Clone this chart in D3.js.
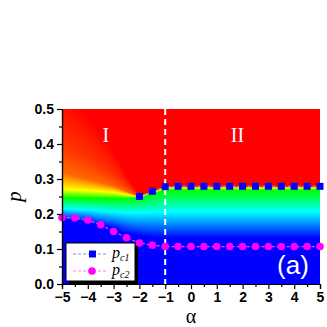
<!DOCTYPE html>
<html>
<head>
<meta charset="utf-8">
<script src="https://cdn.jsdelivr.net/npm/d3@7"></script>
<style>
  html, body { margin: 0; padding: 0; background: #fff; }
  svg { display: block; }
</style>
</head>
<body>
<script>
// critical points
const alphaC1 = [-2, -1.5, -1, -0.5, 0, 0.5, 1, 1.5, 2, 2.5, 3, 3.5, 4, 4.5, 5];
const pc1 = [0.25, 0.265, 0.278, 0.279, 0.279, 0.279, 0.279, 0.279, 0.279, 0.279, 0.279, 0.279, 0.279, 0.279, 0.279];
const alphaC2 = [-5, -4.5, -4, -3.5, -3, -2.5, -2, -1.5, -1, -0.5, 0, 0.5, 1, 1.5, 2, 2.5, 3, 3.5, 4, 4.5, 5];
const pc2 = [0.19, 0.189, 0.183, 0.169, 0.15, 0.132, 0.117, 0.111, 0.107, 0.107, 0.107, 0.107, 0.107, 0.107, 0.107, 0.107, 0.107, 0.107, 0.107, 0.107, 0.107];

// colour map background: p where each colour level is reached, per alpha column
const mapAlpha = [-5, -4, -3, -2.5, -2, -1.5, -1, 5];
const mapLevels = [0, 0.25, 0.5, 0.75, 0.9, 0.95, 1];
const mapLevelP = [
  [0.185, 0.215, 0.247, 0.27, 0.32, 0.40, 0.56],
  [0.175, 0.212, 0.245, 0.267, 0.30, 0.36, 0.48],
  [0.158, 0.206, 0.244, 0.262, 0.28, 0.31, 0.38],
  [0.145, 0.204, 0.244, 0.256, 0.264, 0.28, 0.31],
  [0.137, 0.204, 0.246, 0.249, 0.25, 0.251, 0.252],
  [0.133, 0.205, 0.258, 0.262, 0.263, 0.264, 0.265],
  [0.13, 0.206, 0.268, 0.275, 0.277, 0.278, 0.279],
  [0.13, 0.206, 0.268, 0.275, 0.277, 0.278, 0.279]
];

const xTicks = [-5, -4, -3, -2, -1, 0, 1, 2, 3, 4, 5];
const yTicks = [0.0, 0.1, 0.2, 0.3, 0.4, 0.5];
const critAlpha = -1;

const width = 327, height = 327;
const margin = {left: 62, right: 7, top: 109, bottom: 43};
const iw = width - margin.left - margin.right;
const ih = height - margin.top - margin.bottom;

const x = d3.scaleLinear().domain([-5, 5]).range([0, iw]);
const y = d3.scaleLinear().domain([0, 0.5]).range([ih, 0]);
const color = d3.scaleLinear()
  .domain([0, 0.25, 0.5, 0.75, 1])
  .range(["#0000ff", "#00ffff", "#00ff00", "#ffff00", "#ff0000"])
  .clamp(true);

const svg = d3.create("svg")
  .attr("width", width)
  .attr("height", height);

const g = svg.append("g").attr("transform", `translate(${margin.left},${margin.top})`);

// background map drawn on a canvas, then placed as an image
const canvas = document.createElement("canvas");
canvas.width = iw; canvas.height = ih;
const ctx = canvas.getContext("2d");
const img = ctx.createImageData(iw, ih);
const levelAt = (a) => {
  let i = d3.bisectRight(mapAlpha, a) - 1;
  i = Math.max(0, Math.min(mapAlpha.length - 2, i));
  const t = Math.max(0, Math.min(1, (a - mapAlpha[i]) / (mapAlpha[i + 1] - mapAlpha[i])));
  return mapLevelP[i].map((v, k) => v + (mapLevelP[i + 1][k] - v) * t);
};
for (let px = 0; px < iw; px++) {
  const lp = levelAt(x.invert(px + 0.5));
  const vOf = d3.scaleLinear().domain(lp).range(mapLevels).clamp(true);
  for (let py = 0; py < ih; py++) {
    const c = d3.rgb(color(vOf(y.invert(py + 0.5))));
    const o = (py * iw + px) * 4;
    img.data[o] = c.r; img.data[o + 1] = c.g; img.data[o + 2] = c.b; img.data[o + 3] = 255;
  }
}
ctx.putImageData(img, 0, 0);
g.append("image")
  .attr("width", iw).attr("height", ih)
  .attr("href", canvas.toDataURL());

// dashed divider
g.append("line")
  .attr("x1", x(critAlpha)).attr("x2", x(critAlpha))
  .attr("y1", 0).attr("y2", ih)
  .attr("stroke", "#fff").attr("stroke-width", 2)
  .attr("stroke-dasharray", "6,4");

// region labels
g.selectAll(".region")
  .data([{t: "I", a: -3.3}, {t: "II", a: 1.8}])
  .join("text")
  .attr("x", d => x(d.a)).attr("y", 33)
  .attr("text-anchor", "middle")
  .attr("font-family", "Liberation Serif, serif")
  .attr("font-size", 20)
  .attr("fill", "#fff")
  .text(d => d.t);

g.append("text")
  .attr("x", x(3.95)).attr("y", y(0.03))
  .attr("text-anchor", "middle")
  .attr("font-family", "Liberation Sans, Arial, sans-serif")
  .attr("font-size", 26)
  .attr("fill", "#fff")
  .text("(a)");

// pc1 and pc2 series
const c1 = alphaC1.map((a, i) => [a, pc1[i]]);
const c2 = alphaC2.map((a, i) => [a, pc2[i]]);
const line = d3.line().x(d => x(d[0])).y(d => y(d[1]));

g.append("path").attr("d", line(c1))
  .attr("fill", "none").attr("stroke", "#8a8aff").attr("stroke-width", 1.2)
  .attr("stroke-dasharray", "3,2");
g.selectAll(".sq").data(c1).join("rect")
  .attr("x", d => x(d[0]) - 3.5).attr("y", d => y(d[1]) - 3.5)
  .attr("width", 7).attr("height", 7)
  .attr("fill", "#0000ff");

g.append("path").attr("d", line(c2))
  .attr("fill", "none").attr("stroke", "#ff40ff").attr("stroke-width", 1.2)
  .attr("stroke-dasharray", "3,2");
g.selectAll(".dot").data(c2).join("circle")
  .attr("cx", d => x(d[0])).attr("cy", d => y(d[1]))
  .attr("r", 3.8)
  .attr("fill", "#ff00ff");

// axes
g.append("g").attr("transform", `translate(0,${ih})`)
  .call(d3.axisBottom(x).tickValues(xTicks).tickFormat(d3.format("d")).tickSize(5).tickPadding(3));
g.append("g").attr("transform", `translate(0,${ih})`)
  .call(d3.axisBottom(x).tickValues(d3.range(-4.5, 5, 1)).tickFormat("").tickSize(3));
g.append("g")
  .call(d3.axisLeft(y).tickValues(yTicks).tickFormat(d3.format(".1f")).tickSize(5).tickPadding(3));
g.append("g")
  .call(d3.axisLeft(y).tickValues(d3.range(0.05, 0.5, 0.1)).tickFormat("").tickSize(3));
g.selectAll(".domain").attr("stroke", "#000").attr("stroke-width", 1.2);
g.selectAll(".tick line").attr("stroke", "#000").attr("stroke-width", 1.2);
g.selectAll(".tick text")
  .attr("font-family", "Liberation Sans, Arial, sans-serif")
  .attr("font-weight", "bold")
  .attr("font-size", 14)
  .attr("fill", "#000");

// axis titles
svg.append("text")
  .attr("x", margin.left + iw / 2).attr("y", 323)
  .attr("text-anchor", "middle")
  .attr("font-family", "Liberation Serif, serif")
  .attr("font-size", 20)
  .text("\u03b1");
svg.append("text")
  .attr("transform", `translate(21,${margin.top + ih / 2}) rotate(-90)`)
  .attr("text-anchor", "middle")
  .attr("font-family", "Liberation Serif, serif")
  .attr("font-style", "italic")
  .attr("font-size", 21)
  .text("p");

// legend
const lg = svg.append("g").attr("transform", "translate(66,243)");
lg.append("rect").attr("x", 3).attr("y", 3).attr("width", 69).attr("height", 38).attr("fill", "#000");
lg.append("rect").attr("width", 69).attr("height", 38).attr("fill", "#fff").attr("stroke", "#000").attr("stroke-width", 1);
const legendItems = [
  {name: "c1", stroke: "#8a8aff", fill: "#0000ff", shape: "square", yy: 11},
  {name: "c2", stroke: "#ff80ff", fill: "#ff00ff", shape: "circle", yy: 28}
];
legendItems.forEach(d => {
  lg.append("line").attr("x1", 7).attr("x2", 40).attr("y1", d.yy).attr("y2", d.yy)
    .attr("stroke", d.stroke).attr("stroke-width", 1.2).attr("stroke-dasharray", "3,2");
  if (d.shape === "square") {
    lg.append("rect").attr("x", 23).attr("y", d.yy - 3.5).attr("width", 7).attr("height", 7).attr("fill", d.fill);
  } else {
    lg.append("circle").attr("cx", 26).attr("cy", d.yy).attr("r", 3.8).attr("fill", d.fill);
  }
  const t = lg.append("text").attr("x", 46).attr("y", d.yy + 4)
    .attr("font-family", "Liberation Serif, serif").attr("font-style", "italic").attr("font-size", 16);
  t.append("tspan").text("p");
  t.append("tspan").attr("font-size", 10).attr("dy", 3).text(d.name);
});

document.body.append(svg.node());
</script>
</body>
</html>
